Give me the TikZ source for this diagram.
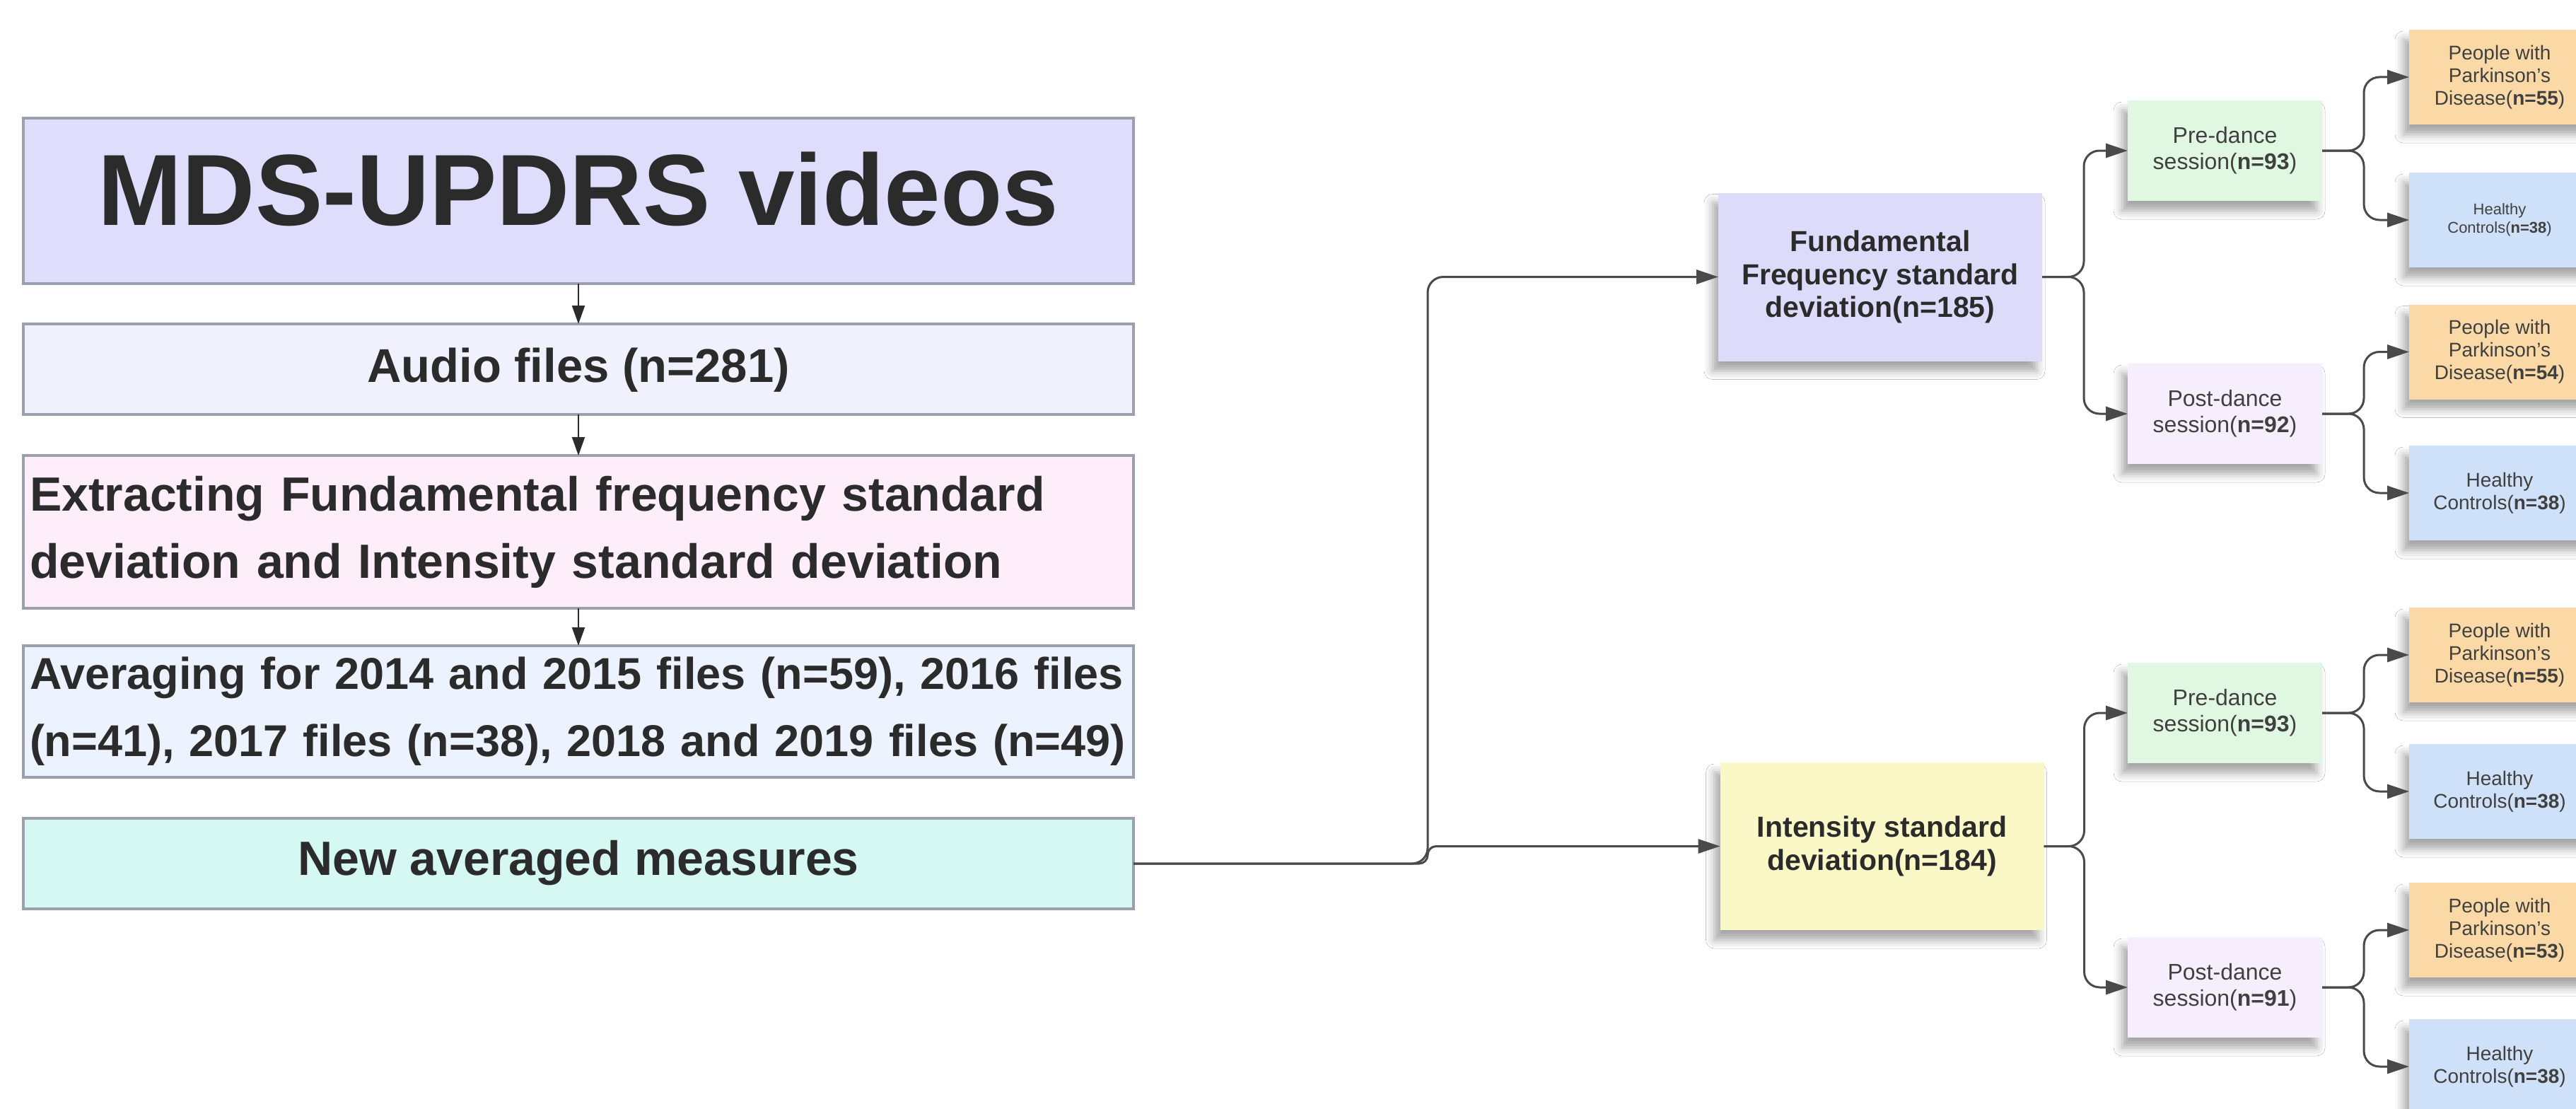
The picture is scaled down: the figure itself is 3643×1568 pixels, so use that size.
\documentclass[tikz,border=0pt]{standalone}
\usepackage{fontspec}
\setmainfont{Liberation Sans}
\usetikzlibrary{arrows.meta,shadows.blur}
\definecolor{mdsfill}{HTML}{DEDEFC}
\definecolor{audiofill}{HTML}{F1F1FD}
\definecolor{extfill}{HTML}{FDEEF9}
\definecolor{avgfill}{HTML}{EDF3FE}
\definecolor{nafill}{HTML}{D5F8F2}
\definecolor{boxborder}{HTML}{9CA0AD}
\definecolor{fffill}{HTML}{DCDCFA}
\definecolor{intfill}{HTML}{F9F8C6}
\definecolor{prefill}{HTML}{E0F7E1}
\definecolor{postfill}{HTML}{F6EEFC}
\definecolor{pdfill}{HTML}{FAD9A6}
\definecolor{hcfill}{HTML}{CFE1F8}
\definecolor{textdark}{HTML}{2B2B2B}
\definecolor{textgray}{HTML}{404040}
\definecolor{linecol}{HTML}{4A4A4A}
\newcommand{\fsz}[2]{\fontsize{#1}{#2}\selectfont}
\tikzset{
  lbox/.style={draw=boxborder, line width=4pt, fill=#1, minimum width=1570pt,
    inner sep=0pt, outer sep=0pt, text=textdark},
  rbox/.style={fill=#1, inner sep=0pt, outer sep=0pt, align=center, text=textgray,
    blur shadow={shadow xshift=-8pt, shadow yshift=-14pt, shadow blur radius=12pt, shadow opacity=35}},
  bigbox/.style={rbox=#1, minimum width=458pt, minimum height=238pt, text=textdark,
    font=\fsz{41}{46.5}\bfseries},
  sessbox/.style={rbox=#1, minimum width=275pt, minimum height=142pt, font=\fsz{32}{37}},
  leafbox/.style={rbox=#1, minimum width=256pt, minimum height=134pt, font=\fsz{28}{32}},
  larrow/.style={draw=textdark, line width=2pt, -{Triangle[length=26pt,width=18pt]}},
  conn/.style={draw=linecol, line width=3pt, rounded corners=22pt,
    -{Triangle[length=31pt,width=20pt]}},
}
\begin{document}
\begin{tikzpicture}[x=1pt,y=-1pt]
\useasboundingbox (0,0) rectangle (3643,1568);
\fill[white] (0,0) rectangle (3643,1568);

% left column
\node[lbox=mdsfill, minimum height=234pt, font=\fsz{143}{172}\bfseries,
  text height=102pt, text depth=34pt] (mds) at (818,284) {MDS-UPDRS videos};
\node[lbox=audiofill, minimum height=128pt, font=\fsz{67}{95}\bfseries,
  text height=48pt, text depth=12pt] (audio) at (818,522) {Audio files (n=281)};
\node[lbox=extfill, minimum height=216pt, font=\fsz{68}{95}\bfseries,
  text width=1552pt, align=left] (ext) at (818,752)
  {Extracting Fundamental frequency standard\\deviation and Intensity standard deviation};
\node[lbox=avgfill, minimum height=186pt, font=\fsz{63}{95}\bfseries,
  text width=1552pt, align=left] (avg) at (818,1006)
  {Averaging for 2014 and 2015 files (n=59), 2016 files\\(n=41), 2017 files (n=38), 2018 and 2019 files (n=49)};
\node[lbox=nafill, minimum height=128pt, font=\fsz{68}{95}\bfseries,
  text height=49pt, text depth=16pt] (na) at (818,1221) {New averaged measures};

\draw[larrow] (mds.south) -- (audio.north);
\draw[larrow] (audio.south) -- (ext.north);
\draw[larrow] (ext.south) -- (avg.north);

% measures
\node[bigbox=fffill] (ff) at (2659,391.5) {Fundamental\\Frequency standard\\deviation(n=185)};
\node[bigbox=intfill, minimum height=237pt] (int) at (2661.5,1196.5) {Intensity standard\\deviation(n=184)};

% sessions
\node[sessbox=prefill] (pre1) at (3146.5,213) {Pre-dance\\session(\textbf{n=93})};
\node[sessbox=postfill] (post1) at (3146.5,585) {Post-dance\\session(\textbf{n=92})};
\node[sessbox=prefill] (pre2) at (3146.5,1008) {Pre-dance\\session(\textbf{n=93})};
\node[sessbox=postfill] (post2) at (3146.5,1396) {Post-dance\\session(\textbf{n=91})};

% leaves
\node[leafbox=pdfill] (pd1) at (3535,109) {People with\\Parkinson's\\Disease(\textbf{n=55})};
\node[leafbox=hcfill, font=\fsz{22}{26}] (hc1) at (3535,311) {Healthy\\Controls(\textbf{n=38})};
\node[leafbox=pdfill] (pd2) at (3535,497.5) {People with\\Parkinson's\\Disease(\textbf{n=54})};
\node[leafbox=hcfill] (hc2) at (3535,697) {Healthy\\Controls(\textbf{n=38})};
\node[leafbox=pdfill] (pd3) at (3535,926) {People with\\Parkinson's\\Disease(\textbf{n=55})};
\node[leafbox=hcfill] (hc3) at (3535,1119) {Healthy\\Controls(\textbf{n=38})};
\node[leafbox=pdfill] (pd4) at (3535,1315) {People with\\Parkinson's\\Disease(\textbf{n=53})};
\node[leafbox=hcfill] (hc4) at (3535,1508) {Healthy\\Controls(\textbf{n=38})};

% trunk
\coordinate (j1) at (2019,1221);
\draw[conn] (na.east) -- (j1) |- (ff.west);
\draw[conn, rounded corners=12pt] (na.east) -- (j1) |- (int.west);

% branches
\draw[conn] (ff.east) -- ++(59,0) |- (pre1.west);
\draw[conn] (ff.east) -- ++(59,0) |- (post1.west);
\draw[conn] (int.east) -- ++(57,0) |- (pre2.west);
\draw[conn] (int.east) -- ++(57,0) |- (post2.west);
\draw[conn] (pre1.east) -- ++(59,0) |- (pd1.west);
\draw[conn] (pre1.east) -- ++(59,0) |- (hc1.west);
\draw[conn] (post1.east) -- ++(59,0) |- (pd2.west);
\draw[conn] (post1.east) -- ++(59,0) |- (hc2.west);
\draw[conn] (pre2.east) -- ++(59,0) |- (pd3.west);
\draw[conn] (pre2.east) -- ++(59,0) |- (hc3.west);
\draw[conn] (post2.east) -- ++(59,0) |- (pd4.west);
\draw[conn] (post2.east) -- ++(59,0) |- (hc4.west);
\end{tikzpicture}
\end{document}
